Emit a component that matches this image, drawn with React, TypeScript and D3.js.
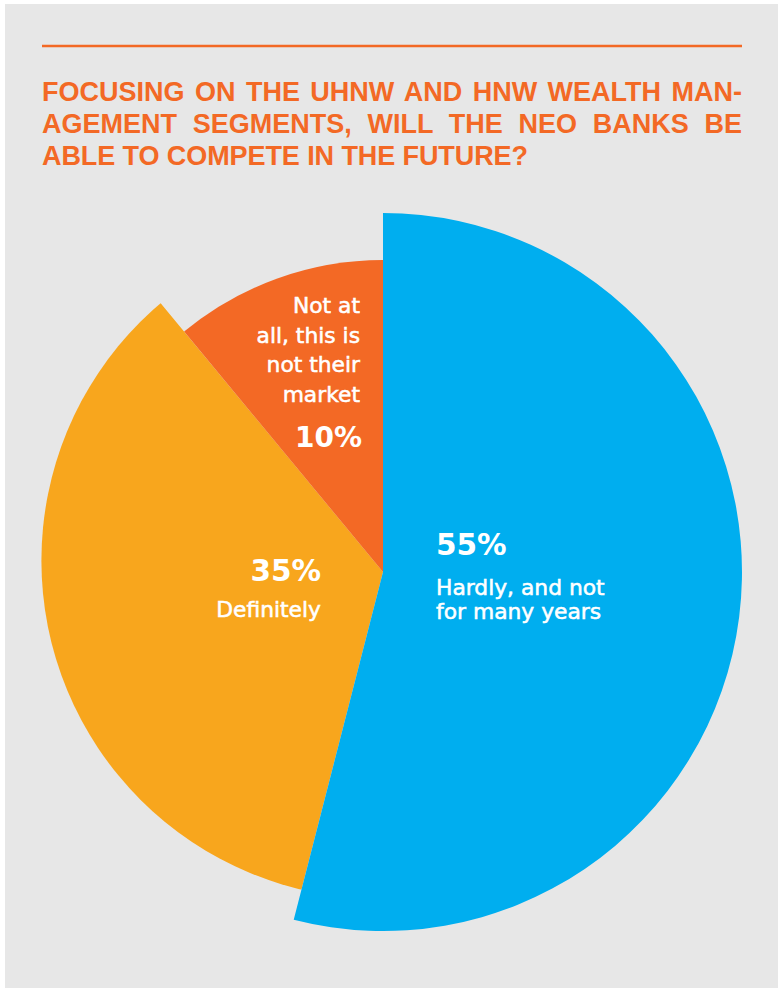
import React, { useEffect, useRef } from "react";
import * as d3 from "d3";

const W = 778;
const H = 988;

// Data
const categories = ["Hardly, and not for many years", "Definitely", "Not at all, this is not their market"];
const shares = [54, 35, 11]; // slice sizes as drawn in the picture
const percentLabels = ["55%", "35%", "10%"];
const labelLines = [["Hardly, and not", "for many years"], ["Definitely"], ["Not at", "all, this is", "not their", "market"]];
const titleLines = [
  "FOCUSING ON THE UHNW AND HNW WEALTH MAN-",
  "AGEMENT SEGMENTS, WILL THE NEO BANKS BE",
  "ABLE TO COMPETE IN THE FUTURE?",
];
const colors = ["#00AEEF", "#F8A61D", "#F36925"];

export default function App() {
  const ref = useRef<SVGSVGElement>(null);

  useEffect(() => {
    const svg = d3.select(ref.current);
    svg.selectAll("*").remove();

    svg.append("rect").attr("x", 5).attr("y", 4).attr("width", W - 5).attr("height", H - 4).attr("fill", "#E7E7E7");

    svg.append("line").attr("x1", 42).attr("x2", 742).attr("y1", 46).attr("y2", 46)
      .attr("stroke", "#F36925").attr("stroke-width", 2.6);

    // Title
    const tg = svg.append("g").attr("fill", "#F36925")
      .attr("font-family", "'Liberation Sans', Arial, sans-serif").attr("font-weight", 700).attr("font-size", 27);
    titleLines.forEach((line, i) => {
      const t = tg.append("text").attr("x", 42).attr("y", 101 + i * 32).text(line);
      const node = t.node() as SVGTextElement;
      const natural = node.getComputedTextLength();
      if (i < 2) {
        const spaces = line.split(" ").length - 1;
        const ws = (700 - natural) / spaces;
        t.style("word-spacing", `${ws}px`);
      } else {
        t.attr("textLength", 486).attr("lengthAdjust", "spacing");
      }
    });

    // Pie
    const cx = 383, cy = 572;
    const pie = d3.pie<number>().sort(null).value((d) => d);
    const arcsData = pie(shares);
    const outer = [359, 420, 312];
    const g = svg.append("g").attr("transform", `translate(${cx},${cy})`);

    const defs = svg.append("defs");
    defs.append("clipPath").attr("id", "yclip")
      .append("circle").attr("cx", -3.6).attr("cy", -11.3).attr("r", 338);

    const arc = d3.arc<d3.PieArcDatum<number>>().innerRadius(0);
    [1, 2, 0].forEach((i) => {
      const p = g.append("path")
        .attr("d", arc.outerRadius(outer[i])(arcsData[i]) as string)
        .attr("fill", colors[i]);
      if (i === 1) p.attr("clip-path", "url(#yclip)");
      p.append("title").text(`${categories[i]}: ${percentLabels[i]}`);
    });

    const lg = svg.append("g").attr("fill", "#fff").attr("font-family", "'DejaVu Sans', sans-serif");
    const fs = 21.8;
    const sw = 0.55;

    // Blue label
    lg.append("text").attr("x", 436).attr("y", 555).attr("font-size", 29.5).attr("font-weight", 700).text(percentLabels[0]);
    labelLines[0].forEach((l, j) => {
      lg.append("text").attr("x", 436).attr("y", 595 + j * 24).attr("font-size", fs)
        .attr("stroke", "#fff").attr("stroke-width", sw).text(l);
    });

    // Yellow label
    lg.append("text").attr("x", 321).attr("y", 581).attr("text-anchor", "end").attr("font-size", 29.5).attr("font-weight", 700).text(percentLabels[1]);
    labelLines[1].forEach((l, j) => {
      lg.append("text").attr("x", 321).attr("y", 617 + j * 24).attr("text-anchor", "end").attr("font-size", fs)
        .attr("stroke", "#fff").attr("stroke-width", sw).text(l);
    });

    // Orange label
    labelLines[2].forEach((l, j) => {
      lg.append("text").attr("x", 360).attr("y", 313 + j * 29.5).attr("text-anchor", "end").attr("font-size", fs)
        .attr("stroke", "#fff").attr("stroke-width", sw).text(l);
    });
    lg.append("text").attr("x", 362).attr("y", 447).attr("text-anchor", "end").attr("font-size", 28).attr("font-weight", 700).text(percentLabels[2]);
  }, []);

  return (
    <svg ref={ref} width={W} height={H} style={{ position: "absolute", left: 0, top: 0, display: "block" }} />
  );
}
